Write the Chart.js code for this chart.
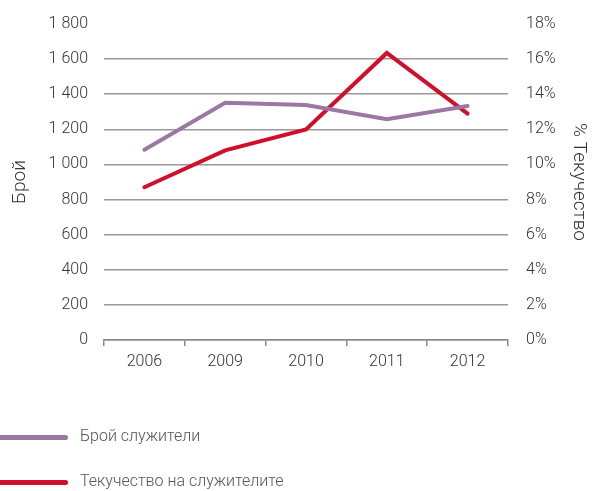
<!DOCTYPE html>
<html><head><meta charset="utf-8">
<script src="https://cdn.jsdelivr.net/npm/chart.js@4/dist/chart.umd.min.js"></script>
<style>
html,body{margin:0;padding:0;background:#fff;}
#wrap{position:relative;width:599px;height:491px;}
#legend{position:absolute;left:0;top:0;width:599px;height:491px;pointer-events:none;font-family:Roboto,sans-serif;font-weight:300;font-size:16px;color:#555;}
.li{position:absolute;left:0;height:20px;}
.sw{position:absolute;left:0;top:8px;width:68px;height:5px;border-radius:0 3px 3px 0;}
.lt{position:absolute;left:80px;top:-1px;white-space:nowrap;}
</style></head><body>
<div id="wrap"><canvas id="c" width="599" height="491"></canvas>
<div id="legend">
 <div class="li" style="top:427px"><div class="sw" style="background:#9b78a3"></div><div class="lt">Брой служители</div></div>
 <div class="li" style="top:472px"><div class="sw" style="background:#d0102a"></div><div class="lt">Текучество на служителите</div></div>
</div></div>
<script>
const categories = ['2006','2009','2010','2011','2012'];
const employees = [1084, 1352, 1339, 1258, 1333];
const turnover = [8.7, 10.8, 12.0, 16.35, 12.9];
const seriesNames = ['Брой служители','Текучество на служителите'];
const leftTitle = 'Брой';
const rightTitle = '% Текучество';

const fmt = v => String(v).replace(/\B(?=(\d{3})+(?!\d))/g, ' ');
const font = {family:'Roboto', weight:300, size:16};
new Chart(document.getElementById('c'), {
  type:'line',
  data:{labels:categories, datasets:[
    {label:seriesNames[0], data:employees, yAxisID:'y', borderColor:'#9b78a3', borderWidth:4, pointRadius:0, tension:0, borderCapStyle:'round'},
    {label:seriesNames[1], data:turnover, yAxisID:'y1', borderColor:'#d0102a', borderWidth:4, pointRadius:0, tension:0, borderCapStyle:'round'}
  ]},
  options:{
    responsive:false, animation:false,
    layout:{padding:{top:24,bottom:111,left:0,right:0}},
    plugins:{legend:{display:false}, tooltip:{enabled:false}},
    scales:{
      x:{offset:true, grid:{offset:true, drawOnChartArea:false, color:'#888', lineWidth:1.5, tickLength:6},
         border:{color:'#888', width:1.5},
         ticks:{font:font, color:'#333', padding:6},
         afterFit:s=>{s.height=40; s.paddingLeft=0; s.paddingRight=0;}},
      y:{position:'left', min:0, max:1800,
         ticks:{stepSize:200, font:font, color:'#333', padding:16, callback:v=>fmt(v)},
         grid:{color:c=>c.tick && c.tick.value===1800 ? 'rgba(0,0,0,0)' : '#999', lineWidth:1.5, drawTicks:false},
         border:{display:false},
         title:{display:true, text:leftTitle, font:{family:'Roboto',weight:300,size:19}, color:'#333', padding:{top:9,bottom:0}},
         afterFit:s=>{s.width=104; s.paddingTop=0; s.paddingBottom=0;}},
      y1:{position:'right', min:0, max:18,
         ticks:{stepSize:2, font:font, color:'#333', padding:18, callback:v=>v+'%'},
         grid:{display:false, drawTicks:false},
         border:{display:false},
         title:{display:true, text:rightTitle, font:{family:'Roboto',weight:300,size:19}, color:'#333', padding:{top:9,bottom:0}},
         afterFit:s=>{s.width=91; s.paddingTop=0; s.paddingBottom=0;}}
    }
  }
});
</script></body></html>
